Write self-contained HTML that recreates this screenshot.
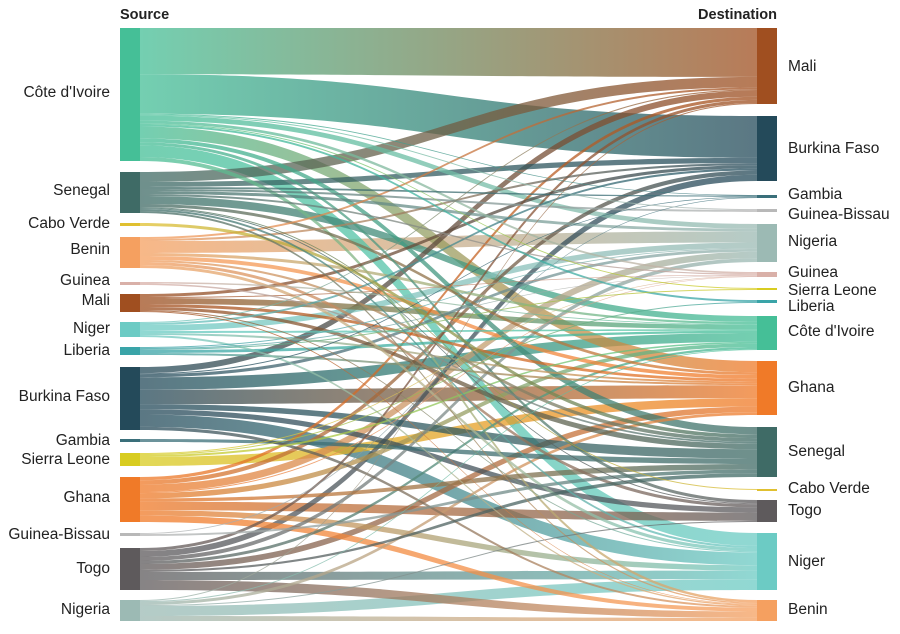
<!DOCTYPE html><html><head><meta charset="utf-8"><style>
body{margin:0;background:#fff;width:900px;height:629px;overflow:hidden}
svg text{font-family:"Liberation Sans",sans-serif;font-size:15.5px;fill:#222}
</style></head><body>
<svg id="s" width="900" height="629" xmlns="http://www.w3.org/2000/svg">
<defs id="d"></defs><g id="L"></g><g id="N"></g>
<text x="120" y="19" style="font-weight:bold;font-size:14.5px">Source</text>
<text x="777" y="19" text-anchor="end" style="font-weight:bold;font-size:14.5px">Destination</text>
</svg>
<script>
const C={"Côte d'Ivoire":"#45bf97","Senegal":"#3f6b66","Cabo Verde":"#e0c030","Benin":"#f5a060","Guinea":"#d9b0a8","Mali":"#a04f20","Niger":"#6ccbc4","Liberia":"#3aa4a8","Burkina Faso":"#244a5a","Gambia":"#3a6f7a","Sierra Leone":"#d8cc20","Ghana":"#f07a28","Guinea-Bissau":"#b8b8b8","Togo":"#5e5a5c","Nigeria":"#9cbab4"};
const S=[["Côte d'Ivoire",28,161],["Senegal",172,213],["Cabo Verde",223,226],["Benin",237,268],["Guinea",282,285],["Mali",294,312],["Niger",322,337],["Liberia",347,355],["Burkina Faso",367,430],["Gambia",439,442],["Sierra Leone",453,466],["Ghana",477,522],["Guinea-Bissau",533,536],["Togo",548,590],["Nigeria",600,621]];
const T=[["Mali",28,104],["Burkina Faso",116,181],["Gambia",195,198],["Guinea-Bissau",209,212],["Nigeria",224,262],["Guinea",272,277],["Sierra Leone",288,290],["Liberia",300,303],["Côte d'Ivoire",316,350],["Ghana",361,415],["Senegal",427,477],["Cabo Verde",489,490],["Togo",500,522],["Niger",533,590],["Benin",600,621]];
const F={"Côte d'Ivoire":{Mali:47,"Burkina Faso":40,Gambia:1,"Guinea-Bissau":1,Nigeria:5,Guinea:3,"Sierra Leone":1,Liberia:2,Ghana:12,Senegal:4,Togo:3,Niger:12,Benin:4},
"Senegal":{Mali:10,"Burkina Faso":5,Gambia:2,"Guinea-Bissau":2,Nigeria:3,Guinea:2,"Côte d'Ivoire":8,Ghana:3,"Cabo Verde":1,Togo:1,Niger:2,Benin:2},
"Cabo Verde":{Senegal:2},
"Benin":{Mali:2,"Burkina Faso":2,Nigeria:12,"Côte d'Ivoire":3,Ghana:4,Senegal:2,Togo:3,Niger:3},
"Guinea":{Senegal:1,"Côte d'Ivoire":1},
"Mali":{"Burkina Faso":3,Guinea:1,"Côte d'Ivoire":6,Ghana:3,Senegal:3,Niger:1,Benin:1},
"Niger":{Mali:1,"Burkina Faso":2,Nigeria:6,"Côte d'Ivoire":2,Ghana:2,Benin:2},
"Liberia":{Nigeria:1,Guinea:1,"Sierra Leone":1,"Côte d'Ivoire":3,Ghana:2},
"Burkina Faso":{Mali:6,Gambia:1,Nigeria:3,"Côte d'Ivoire":12,Ghana:14,Senegal:5,Togo:5,Niger:12,Benin:3},
"Gambia":{Senegal:3},
"Sierra Leone":{Guinea:1,Liberia:1,"Côte d'Ivoire":2,Ghana:9},
"Ghana":{Mali:3,"Burkina Faso":4,Nigeria:7,Guinea:1,"Côte d'Ivoire":5,Senegal:3,Togo:8,Niger:5,Benin:6},
"Guinea-Bissau":{Gambia:1,Senegal:2},
"Togo":{Mali:3,"Burkina Faso":6,Nigeria:4,"Côte d'Ivoire":3,Ghana:6,Senegal:2,Niger:8,Benin:10},
"Nigeria":{Mali:1,Ghana:3,Togo:1,Niger:10,Benin:5,"Côte d'Ivoire":1}};
const X0=140,X1=757,ns="http://www.w3.org/2000/svg";
const links=[];S.forEach(s=>{T.forEach(t=>{const v=(F[s[0]]||{})[t[0]];if(v)links.push({s,t,v});});});
const sSum={},tSum={};links.forEach(l=>{sSum[l.s[0]]=(sSum[l.s[0]]||0)+l.v;tSum[l.t[0]]=(tSum[l.t[0]]||0)+l.v;});
const sY={},tY={};S.forEach(s=>sY[s[0]]=s[1]);T.forEach(t=>tY[t[0]]=t[1]);
links.forEach(l=>{const h=l.v*(l.s[2]-l.s[1])/sSum[l.s[0]];l.y0=sY[l.s[0]];l.y1=l.y0+h;sY[l.s[0]]+=h;});
links.forEach(l=>{const h=l.v*(l.t[2]-l.t[1])/tSum[l.t[0]];l.z0=tY[l.t[0]];l.z1=l.z0+h;tY[l.t[0]]+=h;});
const d=document.getElementById('d'),G=document.getElementById('L'),N=document.getElementById('N');
let i=0;const m=(X0+X1)/2;
links.sort((a,b)=>a.v-b.v).reverse();
links.forEach(l=>{const id='g'+(i++);
const g=document.createElementNS(ns,'linearGradient');g.setAttribute('id',id);g.setAttribute('gradientUnits','userSpaceOnUse');g.setAttribute('x1',X0);g.setAttribute('x2',X1);g.setAttribute('y1',0);g.setAttribute('y2',0);
g.innerHTML=`<stop offset="0" stop-color="${C[l.s[0]]}"/><stop offset="1" stop-color="${C[l.t[0]]}"/>`;d.appendChild(g);
const p=document.createElementNS(ns,'path');
p.setAttribute('d',`M${X0},${l.y0}C${m},${l.y0} ${m},${l.z0} ${X1},${l.z0}L${X1},${l.z1}C${m},${l.z1} ${m},${l.y1} ${X0},${l.y1}Z`);
p.setAttribute('fill',`url(#${id})`);p.setAttribute('fill-opacity','0.75');G.appendChild(p);});
function node(n,x){const r=document.createElementNS(ns,'rect');r.setAttribute('x',x);r.setAttribute('y',n[1]);r.setAttribute('width',20);r.setAttribute('height',Math.max(2,n[2]-n[1]));r.setAttribute('fill',C[n[0]]);N.appendChild(r);}
S.forEach(n=>node(n,120));T.forEach(n=>node(n,757));
const SL={"Côte d'Ivoire":97,"Senegal":195,"Cabo Verde":228,"Benin":254,"Guinea":285,"Mali":305,"Niger":333,"Liberia":355,"Burkina Faso":401,"Gambia":445,"Sierra Leone":464,"Ghana":502,"Guinea-Bissau":539,"Togo":573,"Nigeria":614};
const TL={"Mali":71,"Burkina Faso":153,"Gambia":199,"Guinea-Bissau":219,"Nigeria":246,"Guinea":277,"Sierra Leone":295,"Liberia":311,"Côte d'Ivoire":336,"Ghana":392,"Senegal":456,"Cabo Verde":493,"Togo":515,"Niger":566,"Benin":614};
for(const k in SL){const t=document.createElementNS(ns,'text');t.setAttribute('x',110);t.setAttribute('y',SL[k]);t.setAttribute('text-anchor','end');t.textContent=k;N.appendChild(t);}
for(const k in TL){const t=document.createElementNS(ns,'text');t.setAttribute('x',788);t.setAttribute('y',TL[k]);t.textContent=k;N.appendChild(t);}
</script>
</body></html>
